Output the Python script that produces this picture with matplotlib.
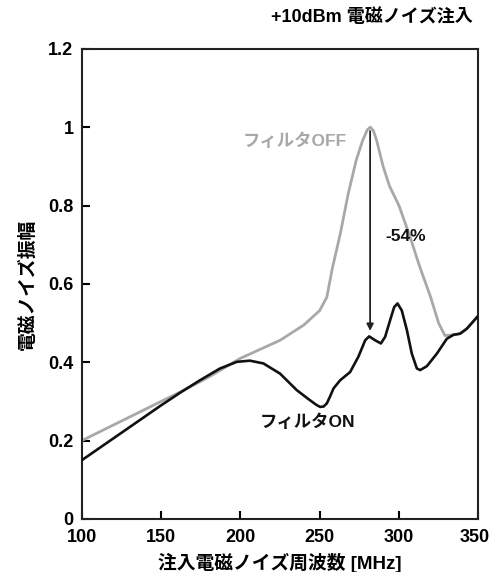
import matplotlib
matplotlib.use("Agg")
import matplotlib.pyplot as plt
import matplotlib.transforms as mtransforms

plt.rcParams['font.family'] = ['Liberation Sans', 'Noto Sans CJK JP', 'DejaVu Sans']
plt.rcParams['font.weight'] = 'bold'

# ---- data ----
off_x = [100, 120, 140, 150, 162, 180, 200, 225, 240, 250, 254.5, 258, 263, 268, 273, 277, 280, 282,
         284, 286, 290, 294, 300, 307, 313, 320, 325, 329, 334.4, 338.6, 342.9, 349.2, 350]
off_y = [0.200, 0.240, 0.280, 0.300, 0.324, 0.362, 0.410, 0.456, 0.495, 0.532, 0.566, 0.640, 0.728,
         0.830, 0.915, 0.965, 0.993, 1.000, 0.990, 0.965, 0.900, 0.850, 0.800, 0.720, 0.645, 0.566,
         0.500, 0.468, 0.470, 0.473, 0.486, 0.515, 0.518]

on_x = [100, 110, 120, 130, 140, 150, 161.9, 174.5, 187.1, 197.7, 206, 214.5, 225, 235.5, 240,
        243.9, 248, 250.3, 252.5, 254.5, 256.6, 258.7, 262.9, 269.2, 274.4, 278.7, 281.2, 285,
        288.6, 291.3, 294.4, 297, 299.1, 301.8, 305, 308.1, 311.3, 313.4, 317.6, 323.9, 330.2,
        334.4, 338.6, 342.9, 349.2, 350]
on_y = [0.150, 0.178, 0.206, 0.234, 0.262, 0.290, 0.322, 0.354, 0.384, 0.401, 0.404, 0.397, 0.371,
        0.329, 0.315, 0.303, 0.291, 0.286, 0.287, 0.295, 0.313, 0.333, 0.354, 0.375, 0.414, 0.456,
        0.466, 0.456, 0.448, 0.465, 0.507, 0.541, 0.550, 0.532, 0.482, 0.422, 0.384, 0.380, 0.390,
        0.422, 0.460, 0.470, 0.473, 0.486, 0.515, 0.518]

x_ticks = [100, 150, 200, 250, 300, 350]
y_ticks = [0, 0.2, 0.4, 0.6, 0.8, 1.0, 1.2]
y_tick_labels = ['0', '0.2', '0.4', '0.6', '0.8', '1', '1.2']

arrow_x = 281.8
arrow_from = 0.99
arrow_to = 0.48

fig = plt.figure(figsize=(4.9, 5.72), dpi=100)
ax = fig.add_axes([0.167, 0.0927, 0.809, 0.822])

ax.plot(off_x, off_y, color='#a8a8a8', lw=2.0, zorder=2, solid_joinstyle='round')
ax.plot(on_x, on_y, color='#111111', lw=1.9, zorder=3, solid_joinstyle='round')

ax.annotate('', xy=(arrow_x, arrow_to), xytext=(arrow_x, arrow_from),
            arrowprops=dict(arrowstyle='-|>', color='#222222', lw=1.3,
                            mutation_scale=10, shrinkA=0, shrinkB=0), zorder=4)

ax.text(304.5, 0.72, '-54%', fontsize=12.5, fontweight='bold', ha='center', va='center', color='#111111')
ax.text(267.5, 0.966, 'フィルタOFF', fontsize=12.5, fontweight='bold', ha='right', va='center', color='#a8a8a8')
ax.text(242.4, 0.248, 'フィルタON', fontsize=12.5, fontweight='bold', ha='center', va='center', color='#111111')

ax.set_xlim(100, 350)
ax.set_ylim(0, 1.2)
ax.set_xticks(x_ticks)
ax.set_yticks(y_ticks)
ax.set_yticklabels(y_tick_labels)
ax.tick_params(direction='in', length=6, width=1.5, labelsize=13, top=False, right=False)
ax.tick_params(axis='x', pad=7)
ax.tick_params(axis='y', pad=6)
for lab in ax.get_xticklabels() + ax.get_yticklabels():
    lab.set_fontweight('bold')
# nudge the last x tick label slightly left so it stays inside the image
last = ax.get_xticklabels()[-1]
last.set_transform(last.get_transform() +
                   mtransforms.ScaledTranslation(-4/100, 0, fig.dpi_scale_trans))
for s in ax.spines.values():
    s.set_linewidth(1.5)
    s.set_color('#222222')

ax.set_xlabel('注入電磁ノイズ周波数 [MHz]', fontsize=13.5, fontweight='bold', labelpad=5)
ax.set_ylabel('電磁ノイズ振幅', fontsize=13.5, fontweight='bold', labelpad=8)

fig.text(473/490, 1 - 17/572, '+10dBm 電磁ノイズ注入', fontsize=13, fontweight='bold',
         ha='right', va='center')

fig.savefig('out.png', dpi=100)
